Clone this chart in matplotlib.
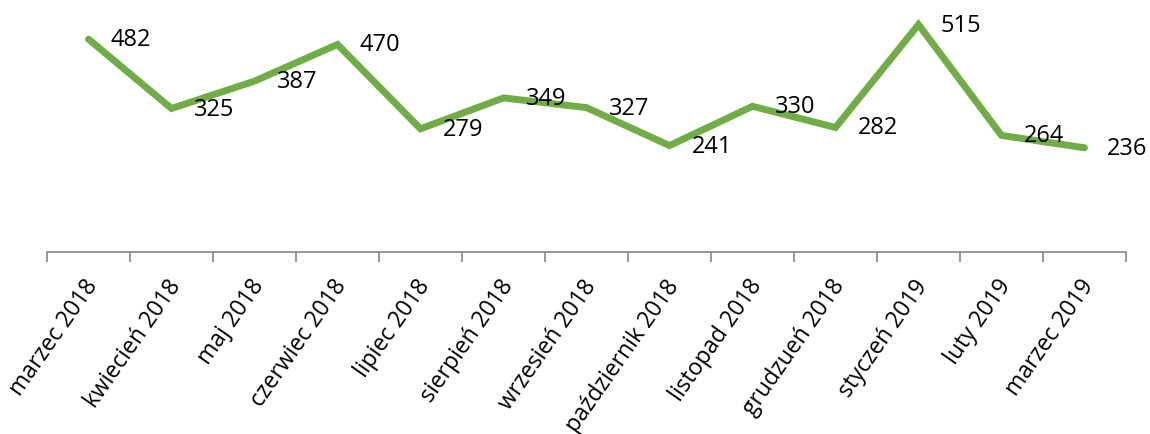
import matplotlib
matplotlib.use("Agg")
import matplotlib.pyplot as plt
from matplotlib.ticker import FixedLocator
from matplotlib.transforms import ScaledTranslation
import numpy as np

months = ["marzec 2018", "kwiecień 2018", "maj 2018", "czerwiec 2018", "lipiec 2018",
          "sierpień 2018", "wrzesień 2018", "październik 2018", "listopad 2018",
          "grudzueń 2018", "styczeń 2019", "luty 2019", "marzec 2019"]
values = [482, 325, 387, 470, 279, 349, 327, 241, 330, 282, 515, 264, 236]

plt.rcParams['font.family'] = ['Open Sans', 'DejaVu Sans']

fig = plt.figure(figsize=(11.5, 4.35), dpi=100)
W, H = 1150, 435
ax = fig.add_axes([47 / W, 1 - 253 / H, (1126 - 47) / W, 253 / H])

x = np.arange(len(values))
ax.plot(x, values, color="#70AD47", linewidth=5, solid_joinstyle="miter", solid_capstyle="round")

# etykiety wartości po prawej stronie punktów
for xi, v in zip(x, values):
    ax.annotate(str(v), (xi, v), xytext=(16, 0), textcoords="offset points",
                ha="left", va="center", fontsize=17, color="#000000")

ax.set_xlim(-0.5, len(values) - 0.5)
ax.set_ylim(0, 573)

for s in ["top", "right", "left"]:
    ax.spines[s].set_visible(False)
ax.spines["bottom"].set_color("#868686")
ax.spines["bottom"].set_linewidth(1.2)
ax.set_yticks([])

ax.xaxis.set_major_locator(FixedLocator(x))
ax.xaxis.set_minor_locator(FixedLocator(np.arange(-0.5, len(values), 1.0)))
ax.set_xticklabels(months, rotation=55, ha="right", va="top", rotation_mode="anchor", fontsize=16.5)
ax.tick_params(axis="x", which="major", length=0, pad=16)
ax.tick_params(axis="x", which="minor", length=7, width=1.2, color="#868686", direction="out")

shift = ScaledTranslation(-5 / 100, 0, fig.dpi_scale_trans)
for lab in ax.get_xticklabels():
    lab.set_transform(lab.get_transform() + shift)

fig.savefig("out.png", dpi=100)
